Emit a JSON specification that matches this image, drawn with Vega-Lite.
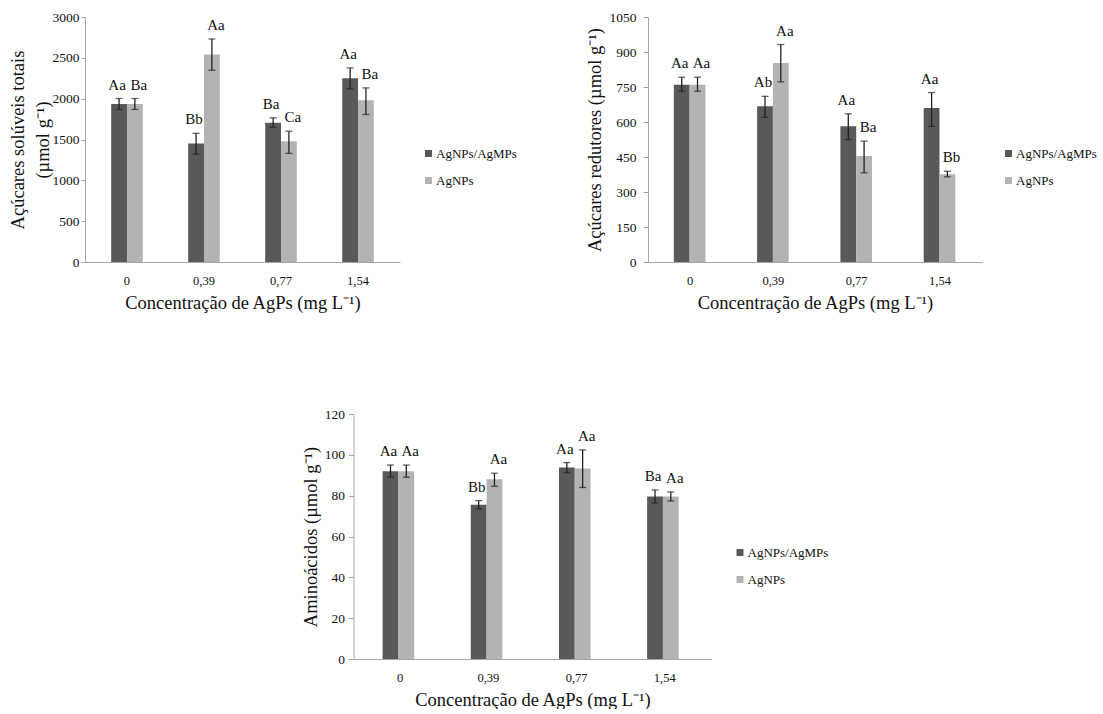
{
  "$schema": "https://vega.github.io/schema/vega-lite/v6.json",
  "padding": {"left": 8, "top": 10, "right": 0, "bottom": 0},
  "background": "white",
  "config": {
    "font": "Liberation Serif",
    "view": {"stroke": null},
    "axis": {"labelFont": "Liberation Serif", "titleFont": "Liberation Serif", "labelFontSize": 13, "titleFontSize": 18.5, "titleFontWeight": "normal", "labelColor": "#111", "titleColor": "#111", "domainColor": "#a6a6a6", "tickColor": "#a6a6a6", "grid": false, "labelOverlap": false},
    "axisX": {"ticks": false, "labelAngle": 0, "labelPadding": 12, "titlePadding": 7, "labelFontSize": 12.5},
    "axisY": {"tickSize": 5, "labelPadding": 3, "titlePadding": 6, "format": "d", "labelFontSize": 13.5},
    "legend": {"orient": "none", "title": null, "symbolType": "square", "symbolSize": 49, "symbolStrokeWidth": 0, "labelFont": "Liberation Serif", "labelFontSize": 13, "labelColor": "#111", "rowPadding": 13, "labelOffset": 1, "padding": 0, "labelLimit": 300},
    "text": {"font": "Liberation Serif", "fontSize": 15, "color": "#111"}
  },
  "datasets": {
    "totais": [
      {"c": "0", "s": "AgNPs/AgMPs", "v": 1935, "lo": 1868, "hi": 2002, "lab": "Aa"},
      {"c": "0", "s": "AgNPs", "v": 1935, "lo": 1868, "hi": 2002, "lab": "Ba"},
      {"c": "0,39", "s": "AgNPs/AgMPs", "v": 1450, "lo": 1320, "hi": 1575, "lab": "Bb"},
      {"c": "0,39", "s": "AgNPs", "v": 2540, "lo": 2348, "hi": 2731, "lab": "Aa"},
      {"c": "0,77", "s": "AgNPs/AgMPs", "v": 1705, "lo": 1650, "hi": 1765, "lab": "Ba"},
      {"c": "0,77", "s": "AgNPs", "v": 1478, "lo": 1330, "hi": 1602, "lab": "Ca"},
      {"c": "1,54", "s": "AgNPs/AgMPs", "v": 2250, "lo": 2120, "hi": 2377, "lab": "Aa"},
      {"c": "1,54", "s": "AgNPs", "v": 1980, "lo": 1806, "hi": 2132, "lab": "Ba"}
    ],
    "redutores": [
      {"c": "0", "s": "AgNPs/AgMPs", "v": 760, "lo": 732, "hi": 792, "lab": "Aa"},
      {"c": "0", "s": "AgNPs", "v": 760, "lo": 732, "hi": 792, "lab": "Aa"},
      {"c": "0,39", "s": "AgNPs/AgMPs", "v": 668, "lo": 620, "hi": 710, "lab": "Ab"},
      {"c": "0,39", "s": "AgNPs", "v": 853, "lo": 772, "hi": 932, "lab": "Aa"},
      {"c": "0,77", "s": "AgNPs/AgMPs", "v": 582, "lo": 525, "hi": 635, "lab": "Aa"},
      {"c": "0,77", "s": "AgNPs", "v": 454, "lo": 382, "hi": 518, "lab": "Ba"},
      {"c": "1,54", "s": "AgNPs/AgMPs", "v": 660, "lo": 581, "hi": 726, "lab": "Aa"},
      {"c": "1,54", "s": "AgNPs", "v": 376, "lo": 365, "hi": 389, "lab": "Bb"}
    ],
    "amino": [
      {"c": "0", "s": "AgNPs/AgMPs", "v": 92, "lo": 89, "hi": 95, "lab": "Aa"},
      {"c": "0", "s": "AgNPs", "v": 92, "lo": 89, "hi": 95, "lab": "Aa"},
      {"c": "0,39", "s": "AgNPs/AgMPs", "v": 75.5, "lo": 73.5, "hi": 77.6, "lab": "Bb"},
      {"c": "0,39", "s": "AgNPs", "v": 88, "lo": 84.6, "hi": 91, "lab": "Aa"},
      {"c": "0,77", "s": "AgNPs/AgMPs", "v": 93.8, "lo": 91.3, "hi": 96.2, "lab": "Aa"},
      {"c": "0,77", "s": "AgNPs", "v": 93.3, "lo": 84, "hi": 102.4, "lab": "Aa"},
      {"c": "1,54", "s": "AgNPs/AgMPs", "v": 79.6, "lo": 76.4, "hi": 82.8, "lab": "Ba"},
      {"c": "1,54", "s": "AgNPs", "v": 79.6, "lo": 77.4, "hi": 81.8, "lab": "Aa"}
    ]
  },
  "resolve": {"scale": {"color": "independent"}, "legend": {"color": "independent"}},
  "spacing": 95,
  "center": true,
  "vconcat": [
    {
      "spacing": 68,
      "resolve": {"scale": {"color": "independent"}, "legend": {"color": "independent"}},
      "hconcat": [
        {
          "width": 315, "height": 245,
          "data": {"name": "totais"},
          "encoding": {
            "x": {"field": "c", "type": "nominal", "scale": {"domain": ["0", "0,39", "0,77", "1,54"], "paddingInner": 0.59, "paddingOuter": 0.34}, "axis": {"title": "Concentração de AgPs (mg L⁻¹)"}},
            "xOffset": {"field": "s", "type": "nominal", "scale": {"domain": ["AgNPs/AgMPs", "AgNPs"], "paddingInner": 0, "paddingOuter": 0}},
            "y": {"type": "quantitative", "scale": {"domain": [0, 3000], "nice": false}, "axis": {"values": [0, 500, 1000, 1500, 2000, 2500, 3000], "titleLineHeight": 25, "titlePadding": 0, "tickSize": 4, "labelPadding": 2}, "title": ["Açúcares solúveis totais", "(µmol g⁻¹)"]}
          },
          "layer": [
            {"mark": {"type": "bar"}, "encoding": {
              "y": {"field": "v"},
              "color": {"field": "s", "type": "nominal", "scale": {"domain": ["AgNPs/AgMPs", "AgNPs"], "range": ["#595959", "#b3b3b3"]}, "legend": {"legendX": 337, "legendY": 130}}
            }},
            {"mark": {"type": "rule", "color": "#222", "strokeWidth": 1.3}, "encoding": {"y": {"field": "lo"}, "y2": {"field": "hi"}}},
            {"mark": {"type": "tick", "orient": "horizontal", "size": 7, "thickness": 1.3, "color": "#222"}, "encoding": {"y": {"field": "lo"}}},
            {"mark": {"type": "tick", "orient": "horizontal", "size": 7, "thickness": 1.3, "color": "#222"}, "encoding": {"y": {"field": "hi"}}},
            {"transform": [{"filter": "datum.s === 'AgNPs/AgMPs'"}], "mark": {"type": "text", "dy": -9, "dx": -2, "baseline": "alphabetic"}, "encoding": {"y": {"field": "hi"}, "text": {"field": "lab"}}},
            {"transform": [{"filter": "datum.s === 'AgNPs'"}], "mark": {"type": "text", "dy": -9, "dx": 4, "baseline": "alphabetic"}, "encoding": {"y": {"field": "hi"}, "text": {"field": "lab"}}}
          ]
        },
        {
          "width": 334, "height": 245,
          "data": {"name": "redutores"},
          "encoding": {
            "x": {"field": "c", "type": "nominal", "scale": {"domain": ["0", "0,39", "0,77", "1,54"], "paddingInner": 0.61, "paddingOuter": 0.31}, "axis": {"title": "Concentração de AgPs (mg L⁻¹)"}},
            "xOffset": {"field": "s", "type": "nominal", "scale": {"domain": ["AgNPs/AgMPs", "AgNPs"], "paddingInner": 0, "paddingOuter": 0}},
            "y": {"type": "quantitative", "scale": {"domain": [0, 1050], "nice": false}, "axis": {"values": [0, 150, 300, 450, 600, 750, 900, 1050], "tickSize": 5, "labelPadding": 7, "titlePadding": 5}, "title": "Açúcares redutores (µmol g⁻¹)"}
          },
          "layer": [
            {"mark": {"type": "bar"}, "encoding": {
              "y": {"field": "v"},
              "color": {"field": "s", "type": "nominal", "scale": {"domain": ["AgNPs/AgMPs", "AgNPs"], "range": ["#595959", "#b3b3b3"]}, "legend": {"legendX": 354, "legendY": 130}}
            }},
            {"mark": {"type": "rule", "color": "#222", "strokeWidth": 1.3}, "encoding": {"y": {"field": "lo"}, "y2": {"field": "hi"}}},
            {"mark": {"type": "tick", "orient": "horizontal", "size": 7, "thickness": 1.3, "color": "#222"}, "encoding": {"y": {"field": "lo"}}},
            {"mark": {"type": "tick", "orient": "horizontal", "size": 7, "thickness": 1.3, "color": "#222"}, "encoding": {"y": {"field": "hi"}}},
            {"transform": [{"filter": "datum.s === 'AgNPs/AgMPs'"}], "mark": {"type": "text", "dy": -9, "dx": -2, "baseline": "alphabetic"}, "encoding": {"y": {"field": "hi"}, "text": {"field": "lab"}}},
            {"transform": [{"filter": "datum.s === 'AgNPs'"}], "mark": {"type": "text", "dy": -9, "dx": 4, "baseline": "alphabetic"}, "encoding": {"y": {"field": "hi"}, "text": {"field": "lab"}}}
          ]
        }
      ]
    },
    {
      "width": 358, "height": 245,
      "data": {"name": "amino"},
      "encoding": {
        "x": {"field": "c", "type": "nominal", "scale": {"domain": ["0", "0,39", "0,77", "1,54"], "paddingInner": 0.6, "paddingOuter": 0.33}, "axis": {"title": "Concentração de AgPs (mg L⁻¹)"}},
        "xOffset": {"field": "s", "type": "nominal", "scale": {"domain": ["AgNPs/AgMPs", "AgNPs"], "paddingInner": 0, "paddingOuter": 0}},
        "y": {"type": "quantitative", "scale": {"domain": [0, 120], "nice": false}, "axis": {"values": [0, 20, 40, 60, 80, 100, 120], "tickSize": 5, "labelPadding": 4, "titlePadding": 4}, "title": "Aminoácidos (µmol g⁻¹)"}
      },
      "layer": [
        {"mark": {"type": "bar"}, "encoding": {
          "y": {"field": "v"},
          "color": {"field": "s", "type": "nominal", "scale": {"domain": ["AgNPs/AgMPs", "AgNPs"], "range": ["#595959", "#b3b3b3"]}, "legend": {"legendX": 380, "legendY": 132}}
        }},
        {"mark": {"type": "rule", "color": "#222", "strokeWidth": 1.3}, "encoding": {"y": {"field": "lo"}, "y2": {"field": "hi"}}},
        {"mark": {"type": "tick", "orient": "horizontal", "size": 7, "thickness": 1.3, "color": "#222"}, "encoding": {"y": {"field": "lo"}}},
        {"mark": {"type": "tick", "orient": "horizontal", "size": 7, "thickness": 1.3, "color": "#222"}, "encoding": {"y": {"field": "hi"}}},
        {"transform": [{"filter": "datum.s === 'AgNPs/AgMPs'"}], "mark": {"type": "text", "dy": -9, "dx": -2, "baseline": "alphabetic"}, "encoding": {"y": {"field": "hi"}, "text": {"field": "lab"}}},
        {"transform": [{"filter": "datum.s === 'AgNPs'"}], "mark": {"type": "text", "dy": -9, "dx": 4, "baseline": "alphabetic"}, "encoding": {"y": {"field": "hi"}, "text": {"field": "lab"}}}
      ]
    }
  ]
}
